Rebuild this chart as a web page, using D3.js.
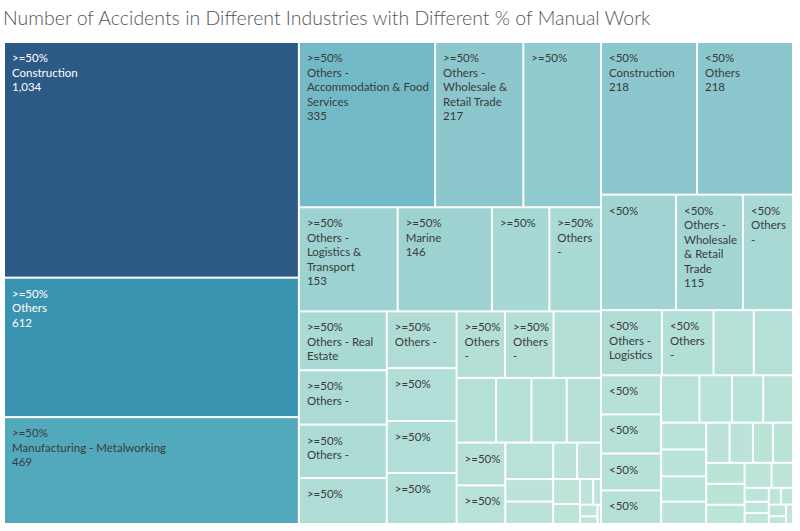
<!DOCTYPE html>
<html><head><meta charset="utf-8">
<script src="https://cdn.jsdelivr.net/npm/d3@7"></script>
<style>body{margin:0;background:#fff;} svg{display:block;}</style>
</head><body><svg id="chart" width="800" height="531"></svg>
<script>
// ---------- data ----------
const title = "Number of Accidents in Different Industries with Different % of Manual Work";
const groups = [">=50%", "<50%"];
const geValues = [1034, 612, 469, 335, 217, 191, 153, 146, 89, 80, 77, 71, 70, 60, 59, 55, 54, 53, 48, 48, 47, 38, 34, 34, 33, 31, 28, 26, 16, 16, 13, 13, 10, 8, 5, 3, 3, 2, 1];
// visible label text ("#" = value line, "" = group only, null = no label)
const geLabels = ["Construction\n#", "Others\n#", "Manufacturing - Metalworking\n#",
  "Others -\nAccommodation & Food\nServices\n#", "Others -\nWholesale &\nRetail Trade\n#", "",
  "Others -\nLogistics &\nTransport\n#", "Marine\n#", "", "Others\n-", "Others - Real\nEstate",
  "Others -", "Others -", "", "Others -", "", "", "", "Others\n-", "Others\n-",
  null, null, null, null, null, "", "", null, null, null, null, null, null, null, null, null, null, null, null];
const ltValues = [218, 218, 129, 115, 86, 59, 50, 39, 38, 35, 35, 33, 30, 27, 23, 22, 21, 18, 18, 17, 15, 14, 14, 12, 12, 12, 12, 11, 10, 8, 5, 4, 4, 3, 3, 3, 2, 2];
const ltLabels = ["Construction\n#", "Others\n#", "", "Others -\nWholesale\n& Retail\nTrade\n#", "Others\n-",
  "Others -\nLogistics", "Others\n-", null, null, "", "", "", "",
  null, null, null, null, null, null, null, null, null, null, null, null, null, null, null, null, null, null, null, null, null, null, null, null, null];
const groupValues = [geValues, ltValues];
const groupLabels = [geLabels, ltLabels];

// ---------- style ----------
const colorStops = [1, 40, 80, 150, 218, 335, 469, 612, 1034];
const colorRange = ["#bee5da", "#b5e0d7", "#a9dad4", "#9dd2d1", "#8bc7cd", "#73bac8", "#53a9bc", "#3a93b0", "#2c5985"];
const color = d3.scaleLinear().domain(colorStops).range(colorRange);
const fmt = d3.format(",");

const svg = d3.select("#chart");
svg.append("text").attr("x", 3).attr("y", 25)
  .attr("font-family", "Lato, 'Open Sans', sans-serif").attr("font-size", 19.5)
  .attr("fill", "#555").attr("font-weight", 300).text(title);

const data = {name: "root", children: groups.map((g, gi) => ({
  name: g,
  children: groupValues[gi].map((v, i) => ({group: g, value: v, label: groupLabels[gi][i]}))
}))};

const root = d3.hierarchy(data)
  .sum(d => d.children ? 0 : d.value)
  .sort((a, b) => b.value - a.value);

const W = 789, H = 482;
d3.treemap().tile(d3.treemapSquarify).size([W, H])(root);

const g = svg.append("g").attr("transform", "translate(4,42)");
const leaves = root.leaves();

const defs = svg.append("defs");
const cell = g.selectAll("g.cell").data(leaves).join("g").attr("class", "cell");

cell.append("rect")
  .attr("x", d => d.x0 + 1).attr("y", d => d.y0 + 1)
  .attr("width", d => Math.max(0, d.x1 - d.x0 - 2))
  .attr("height", d => Math.max(0, d.y1 - d.y0 - 2))
  .attr("fill", d => color(d.data.value));

leaves.forEach((d, k) => {
  defs.append("clipPath").attr("id", "clip" + k).append("rect")
    .attr("x", d.x0 + 1).attr("y", d.y0 + 1)
    .attr("width", Math.max(0, d.x1 - d.x0 - 2)).attr("height", Math.max(0, d.y1 - d.y0 - 2));
});

cell.each(function(d, k) {
  if (d.data.label === null) return;
  const lines = [d.data.group];
  if (d.data.label) d.data.label.split("\n").forEach(s => lines.push(s === "#" ? fmt(d.data.value) : s));
  const t = d3.select(this).append("text")
    .attr("clip-path", "url(#clip" + k + ")")
    .attr("font-family", "Lato, 'Open Sans', sans-serif").attr("font-size", 11.5)
    .attr("fill", d.data.value > 550 ? "#ffffff" : "#3b3b3b");
  lines.forEach((s, i) => {
    t.append("tspan").attr("x", d.x0 + 8).attr("y", d.y0 + 20 + i * 14.5).text(s);
  });
});
</script>
</body></html>
